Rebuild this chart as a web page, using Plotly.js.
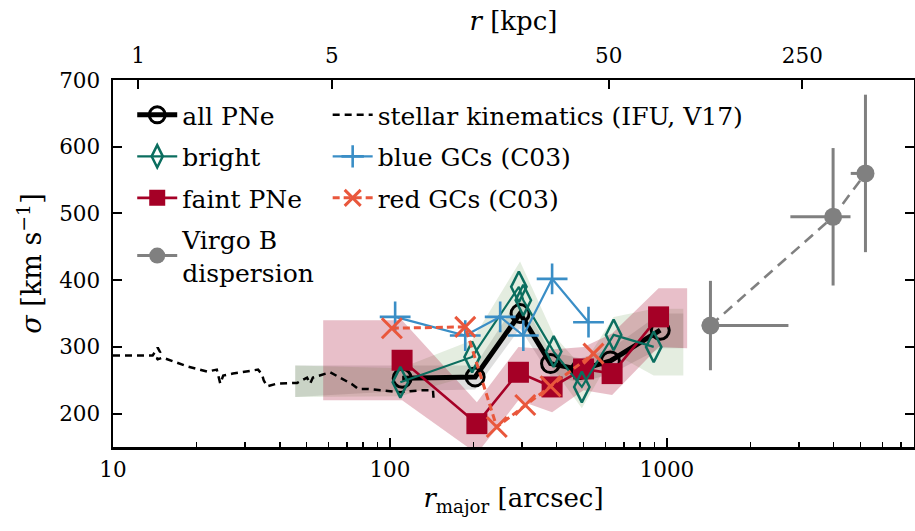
<!DOCTYPE html>
<html><head><meta charset="utf-8">
<script src="https://cdn.plot.ly/plotly-3.0.1.min.js"></script>
<style>body{margin:0;background:#fff} #chart{width:915px;height:531px}</style>
</head><body><div id="chart"></div>
<script>
// ---- data ----
const stellarR = [10.0,12.5,13.9,14.3,14.5,14.8,14.4,15.1,18.5,21.9,23.7,24.4,25.0,27.1,33.4,34.5,35.0,36.0,39.1,46.2,50.2,51.5,52.7,60.8,66.1,73.0,76.8,82.7,109,128.6,143,144];
const stellarSigma = [287,287,287,295,299,292,281,284,271,263,266,245,257,260,266,259,250,241,245,246,254,245,254,262,254,244,237,237,232,235,235,217];

const allR = [110.7,203,295,380,487,625,946];
const allSigma = [253,255,350,275,266,279,325];

const brightR = [109,198,292,303,390,493,642,896];
const brightSigma = [247,285,390,370,293,240,318,300];

const faintR = [110.6,206,291,385,500,634,933];
const faintSigma = [280,185,262,240,267,260,345];

const blueR = [104.4,187,250,303,385,521];
const blueSigma = [345,317,345,317,402,337];

const redR = [101.6,187,243,308,380,543];
const redSigma = [328,330,180,213,241,290];

const virgoR = [1436,3981,5210];
const virgoSigma = [332,495,560];
const virgoSigmaErr = [67,103,118];
const virgoRErrPlus = [1310,620,150];
const virgoRErrMinus = [100,1190,600];

// uncertainty bands
const allBandR = [45.5,110.7,203,295,380,487,625,946,1146];
const allBandLo = [225,234,236,328,256,247,259,298,298];
const allBandHi = [272,272,272,375,292,283,297,350,350];

const brightBandR = [45.5,109,198,295,390,493,642,896,1146];
const brightBandLo = [225,226,258,338,266,208,290,257,257];
const brightBandHi = [272,268,310,428,318,270,345,357,357];

const faintBandR = [57.4,110.6,206,291,385,500,634,933,1183];
const faintBandLo = [220,220,140,220,202,235,228,300,298];
const faintBandHi = [340,340,217,300,296,300,320,388,388];

// axis ticks
const xTicks = [10,100,1000];
const xTickText = ['10','100','1000'];
const yTicks = [200,300,400,500,600,700];
const yTickText = ['200','300','400','500','600','700'];
const kpcTicks = [1,5,50,250];
const kpcTickText = ['1','5','50','250'];
const arcsecPerKpc = 12.33;
const xRange = [10, 7800];

const minorX = [];
[10,100,1000].forEach(d => { for (let k = 2; k <= 9; k++) minorX.push(d*k); });

// ---- styles ----
const cAll = '#000000', cBright = '#0b6e5f', cFaint = '#a50026',
      cBlue = '#3a8ec6', cRed = '#e9573c', cGrey = '#808080';
const FONT = 'DejaVu Serif, Liberation Serif, serif';

function band(x, lo, hi, fill) {
  return [
    {x: x, y: lo, mode: 'lines', line: {width: 0}, showlegend: false, hoverinfo: 'skip'},
    {x: x, y: hi, mode: 'lines', line: {width: 0}, fill: 'tonexty', fillcolor: fill, showlegend: false, hoverinfo: 'skip'}
  ];
}

const traces = [
  ...band(allBandR, allBandLo, allBandHi, 'rgba(110,110,110,0.22)'),
  ...band(brightBandR, brightBandLo, brightBandHi, 'rgba(120,165,100,0.20)'),
  ...band(faintBandR, faintBandLo, faintBandHi, 'rgba(165,0,38,0.25)'),
  {x: stellarR, y: stellarSigma, mode: 'lines', name: 'stellar kinematics (IFU, V17)',
   line: {color: '#000', width: 2.5, dash: '7px,5px'}, legend: 'legend2', legendrank: 1, legendgroup: 's'},
  {x: allR, y: allSigma, mode: 'lines+markers', name: 'all PNe',
   line: {color: cAll, width: 5}, marker: {symbol: 'circle-open', size: 18, line: {color: cAll, width: 3}},
   legendrank: 1, legendgroup: 'a'},
  {x: faintR, y: faintSigma, mode: 'lines+markers', name: 'faint PNe',
   line: {color: cFaint, width: 2.6}, marker: {symbol: 'square', size: 21, color: cFaint},
   legendrank: 3, legendgroup: 'f'},
  {x: brightR, y: brightSigma, mode: 'lines+markers', name: 'bright',
   line: {color: cBright, width: 2.2}, marker: {symbol: 'diamond-tall-open', size: 22, line: {color: cBright, width: 2.5}},
   legendrank: 2, legendgroup: 'br'},
  {x: blueR, y: blueSigma, mode: 'lines+markers', name: 'blue GCs (C03)',
   line: {color: cBlue, width: 2.2}, marker: {symbol: 'cross-thin-open', size: 22, line: {color: cBlue, width: 2.6}},
   legend: 'legend2', legendrank: 2, legendgroup: 'b'},
  {x: redR, y: redSigma, mode: 'lines+markers', name: 'red GCs (C03)',
   line: {color: cRed, width: 3, dash: '7px,4px'}, marker: {symbol: 'x-thin-open', size: 20, line: {color: cRed, width: 3}},
   legend: 'legend2', legendrank: 3, legendgroup: 'r'},
  {x: virgoR, y: virgoSigma, mode: 'lines+markers', name: 'Virgo B', showlegend: false,
   line: {color: cGrey, width: 2.6, dash: '11px,7px'}, marker: {symbol: 'circle', size: 18, color: cGrey},
   error_y: {type: 'data', array: virgoSigmaErr, color: cGrey, thickness: 3, width: 0},
   error_x: {type: 'data', symmetric: false, array: virgoRErrPlus, arrayminus: virgoRErrMinus, color: cGrey, thickness: 3, width: 0}},
  {x: [null], y: [null], mode: 'lines+markers', name: 'Virgo B<br>dispersion',
   line: {color: cGrey, width: 3}, marker: {symbol: 'circle', size: 16, color: cGrey},
   legendrank: 4, legendgroup: 'v'},
  {x: [], y: [], xaxis: 'x2', showlegend: false, hoverinfo: 'skip'}
];

const axisCommon = {
  showgrid: false, zeroline: false, ticks: 'inside', ticklen: 9, tickwidth: 2, tickcolor: '#000',
  showline: true, linecolor: '#000', linewidth: 2.5, tickfont: {family: FONT, size: 21.5, color: '#000'}
};
const legendCommon = {xanchor: 'left', yanchor: 'top', bgcolor: 'rgba(0,0,0,0)',
  font: {family: FONT, size: 25, color: '#000'}, itemwidth: 40, traceorder: 'grouped', tracegroupgap: 6};

const layout = {
  width: 915, height: 531,
  margin: {l: 113, r: 1, t: 80, b: 84, pad: 0},
  paper_bgcolor: '#fff', plot_bgcolor: '#fff',
  font: {family: FONT, size: 22, color: '#000'},
  showlegend: true,
  xaxis: Object.assign({}, axisCommon, {
    type: 'log', range: xRange.map(Math.log10), tickmode: 'array', tickvals: xTicks, ticktext: xTickText,
    mirror: true, ticklabelstandoff: 2,
    minor: {tickmode: 'array', tickvals: minorX, ticks: 'inside', ticklen: 5, tickwidth: 1.5, tickcolor: '#000', showgrid: false},
    title: {text: '<i>r</i><sub>major</sub> [arcsec]', font: {family: FONT, size: 26}, standoff: 8}
  }),
  xaxis2: Object.assign({}, axisCommon, {
    type: 'log', overlaying: 'x', side: 'top', anchor: 'y', showline: false,
    range: xRange.map(v => Math.log10(v / arcsecPerKpc)), tickmode: 'array', tickvals: kpcTicks, ticktext: kpcTickText,
    ticklabelstandoff: 12,
    title: {text: '<i>r</i> [kpc]', font: {family: FONT, size: 26}, standoff: 4}
  }),
  yaxis: Object.assign({}, axisCommon, {
    range: [150, 700], tickmode: 'array', tickvals: yTicks, ticktext: yTickText, mirror: 'ticks',
    ticklabelstandoff: 6,
    title: {text: '<i>σ</i> [km s<sup>−1</sup>]', font: {family: FONT, size: 27}, standoff: 10}
  }),
  legend: Object.assign({x: 0.024, y: 0.967}, legendCommon),
  legend2: Object.assign({x: 0.268, y: 0.967}, legendCommon)
};

Plotly.newPlot('chart', traces, layout, {staticPlot: true, displayModeBar: false});
</script>
</body></html>
